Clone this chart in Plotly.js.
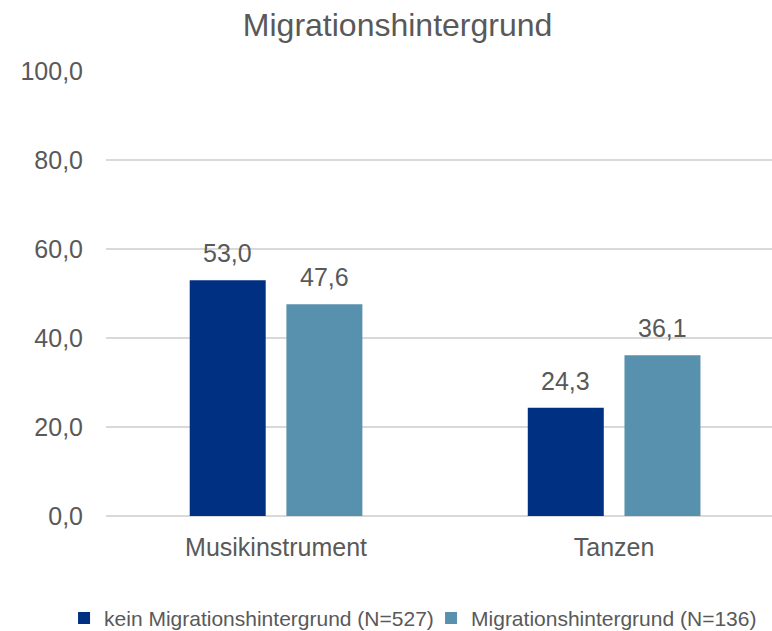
<!DOCTYPE html>
<html>
<head>
<meta charset="utf-8">
<script src="https://cdn.plot.ly/plotly-3.0.1.min.js"></script>
<style>
  html, body { margin: 0; padding: 0; background: #fff; }
  #plot { width: 772px; height: 631px; }
</style>
</head>
<body>
<div id="plot"></div>
<script>
// values
let categories = ['Musikinstrument', 'Tanzen'];
let seriesNames = ['kein Migrationshintergrund (N=527)', 'Migrationshintergrund (N=136)'];
let ohneMigration = [53.0, 24.3];
let mitMigration = [47.6, 36.1];
let yTicks = [0, 20, 40, 60, 80, 100];

let colors = ['#003082', '#5891AD'];
let textColor = '#595959';
let font = 'Liberation Sans, Arial, sans-serif';

let W = 772, H = 631;
let margin = {l: 106, r: 0, t: 71, b: 115, autoexpand: false};
let xRange = [-0.503, 1.467];
let bargap = 0.428;

function fmt(v) {
  return v.toFixed(1).replace('.', ',');
}

let trace1 = {
  type: 'bar',
  x: categories,
  y: ohneMigration,
  name: seriesNames[0],
  marker: {color: colors[0]},
  hoverinfo: 'none'
};

let trace2 = {
  type: 'bar',
  x: categories,
  y: mitMigration,
  name: seriesNames[1],
  marker: {color: colors[1]},
  hoverinfo: 'none'
};

// value labels above bars, shifted to each bar's slot
let plotW = W - margin.l - margin.r;
let catPx = plotW / (xRange[1] - xRange[0]);
let slotOffset = catPx * (1 - bargap) / 4;
let annotations = [];
[ohneMigration, mitMigration].forEach(function(vals, s) {
  vals.forEach(function(v, i) {
    annotations.push({
      x: categories[i], y: v, xref: 'x', yref: 'y',
      text: fmt(v), showarrow: false,
      yanchor: 'bottom', yshift: 11,
      xshift: s === 0 ? -slotOffset : slotOffset,
      font: {family: font, size: 25, color: textColor}
    });
  });
});

let layout = {
  width: W, height: H,
  margin: margin,
  paper_bgcolor: '#fff',
  plot_bgcolor: '#fff',
  separators: ',.',
  barmode: 'group',
  bargap: bargap,
  bargroupgap: 0.214,
  font: {family: font, color: textColor},
  title: {
    text: 'Migrationshintergrund',
    font: {family: font, size: 32, color: textColor},
    x: 0.515, xref: 'container', xanchor: 'center',
    y: 0.96, yref: 'container', yanchor: 'middle'
  },
  xaxis: {
    type: 'category',
    range: xRange,
    showgrid: false,
    showline: false,
    zeroline: false,
    ticks: '',
    ticklabelstandoff: 14,
    tickfont: {family: font, size: 25, color: textColor}
  },
  yaxis: {
    range: [0, 100],
    tickvals: yTicks,
    tickformat: '.1f',
    showgrid: true,
    gridcolor: '#D9D9D9',
    gridwidth: 1.5,
    zeroline: true,
    zerolinecolor: '#D9D9D9',
    zerolinewidth: 1.5,
    showline: false,
    ticks: '',
    ticklabelstandoff: 22,
    tickfont: {family: font, size: 25, color: textColor}
  },
  legend: {
    orientation: 'h',
    x: -0.063, xanchor: 'left',
    y: -0.23, yanchor: 'middle',
    itemwidth: 30,
    entrywidth: 322,
    entrywidthmode: 'pixels',
    font: {family: font, size: 21, color: textColor}
  },
  annotations: annotations
};

Plotly.newPlot('plot', [trace1, trace2], layout, {displayModeBar: false, staticPlot: true});
</script>
</body>
</html>
